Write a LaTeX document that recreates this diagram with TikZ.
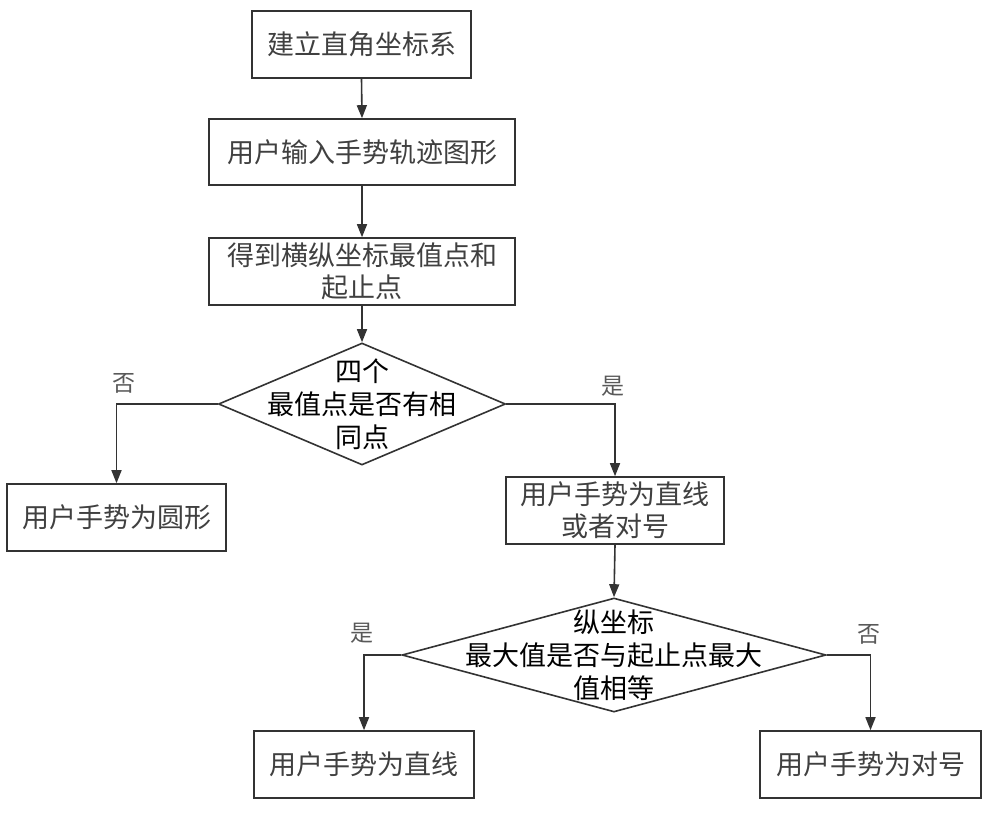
\documentclass[tikz,border=0pt]{standalone}
\usepackage{fontspec}
\newfontfamily\cjk{Noto Sans CJK SC}
\usetikzlibrary{shapes.geometric,arrows.meta}
\begin{document}
\begin{tikzpicture}[x=1pt,y=-1pt,
 box/.style={draw=black!80, line width=1.6pt, rectangle, inner sep=0pt, align=center,
   font=\cjk\fontsize{27}{32}\selectfont, text=black!75},
 dia/.style={draw=black!80, line width=1.6pt, diamond, inner sep=0pt},
 dtext/.style={align=center, font=\cjk\fontsize{27}{33}\selectfont, inner sep=0pt},
 lbl/.style={font=\cjk\fontsize{23}{23}\selectfont, text=black!65, inner sep=0pt},
 conn/.style={line width=1.6pt, draw=black!80, -{Triangle[length=13pt,width=10pt]}}]
\useasboundingbox (0,0) rectangle (1000,818);
\fill[white] (0,0) rectangle (1000,818);

\node[box, minimum width=219pt, minimum height=67pt] (b1) at (361.5,44.5) {建立直角坐标系};
\node[box, minimum width=306pt, minimum height=66pt] (b2) at (362,152) {用户输入手势轨迹图形};
\node[box, minimum width=306pt, minimum height=67pt] (b3) at (362,271.5) {得到横纵坐标最值点和\\起止点};
\node[dia, minimum width=287pt, minimum height=122pt] (d1) at (362,404) {};
\node[dtext] (t1) at (d1.center) {四个\\最值点是否有相\\同点};
\node[box, minimum width=219pt, minimum height=67pt] (b4) at (116.5,517.5) {用户手势为圆形};
\node[box, minimum width=218pt, minimum height=67pt] (b5) at (615,510.5) {用户手势为直线\\或者对号};
\node[dia, minimum width=424pt, minimum height=114pt] (d2) at (614,655) {};
\node[dtext] (t2) at (d2.center) {纵坐标\\最大值是否与起止点最大\\值相等};
\node[box, minimum width=220pt, minimum height=67pt] (b6) at (364,764.5) {用户手势为直线};
\node[box, minimum width=221pt, minimum height=67pt] (b7) at (870.5,764.5) {用户手势为对号};

\node[lbl] (l1) at (124,383) {否};
\node[lbl] (l2) at (613,386) {是};
\node[lbl] (l3) at (362,633) {是};
\node[lbl] (l4) at (869,634) {否};

\draw[conn] (b1.south) -- (b2.north);
\draw[conn] (b2.south) -- (b3.north);
\draw[conn] (b3.south) -- (d1.north);
\draw[conn] (d1.west) -| (b4.north);
\draw[conn] (d1.east) -| (b5.north);
\draw[conn] (b5.south) -- (d2.north);
\draw[conn] (d2.west) -| (b6.north);
\draw[conn] (d2.east) -| (b7.north);
\end{tikzpicture}
\end{document}
